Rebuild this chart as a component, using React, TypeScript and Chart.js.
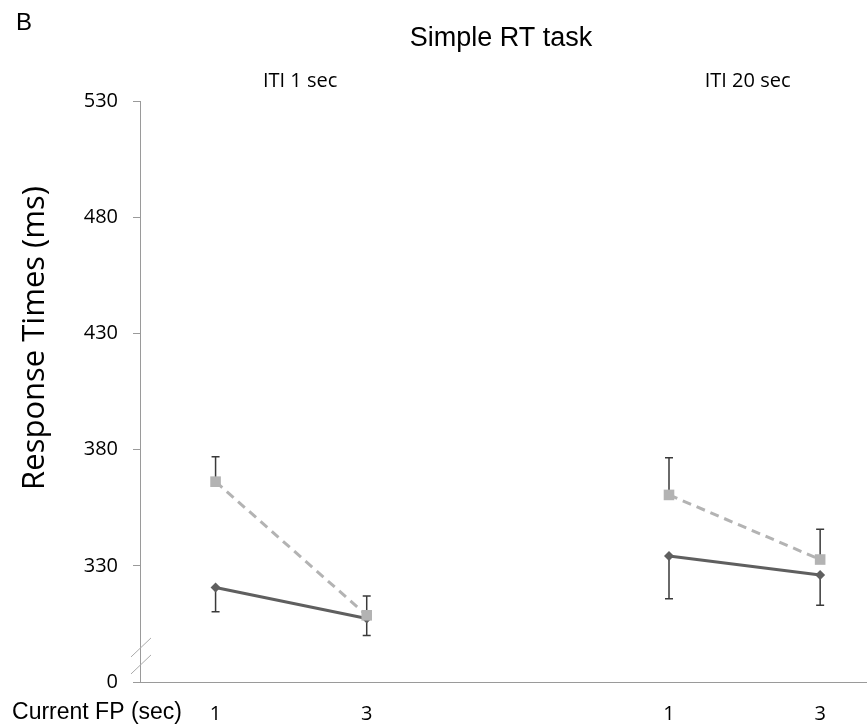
import React, { useEffect, useRef } from "react";
import { Chart, registerables } from "chart.js";

Chart.register(...registerables);

// x slots: 1,2 = ITI 1 sec (FP 1, FP 3); 3 = gap; 4,5 = ITI 20 sec (FP 1, FP 3)
const slotPositions = [1, 2, 3, 4, 5];
const fpTickLabels = ["1", "3", "", "1", "3"];
const tickedSlots = [1, 2, 4, 5];
const groupLabels = ["ITI 1 sec", "ITI 20 sec"];
const groupSlots = [[1, 2], [4, 5]];

// y axis (broken: the bottom tick stands for 0)
const yMin = 280;
const yMax = 530;
const yStep = 50;
const yBottomLabel = "0";

// dark diamonds, solid line (error shown downward)
const diamondValues: (number | null)[] = [320.7, 307.3, null, 334.2, 326.0];
const diamondErrors: (number | null)[] = [10.5, 7.3, null, 18.4, 13.0];
// grey squares, dashed line (error shown upward)
const squareValues: (number | null)[] = [366.2, 308.7, null, 360.5, 332.7];
const squareErrors: (number | null)[] = [10.7, 8.3, null, 16.0, 13.0];

const titleText = "Simple RT task";
const panelLetter = "B";
const yTitle = "Response Times (ms)";
const xTitle = "Current FP (sec)";

const SANS = "'Liberation Sans', Arial, sans-serif";
const CAL = "'Open Sans', 'Noto Sans', sans-serif";
const groupLabelShift = [9, 3];

const errorBarPlugin = {
  id: "errorBars",
  beforeDatasetsDraw(chart: any) {
    const { ctx } = chart;
    const xs = chart.scales.x;
    const ys = chart.scales.y;
    ctx.save();
    ctx.strokeStyle = "#3a3a3a";
    ctx.lineWidth = 1.5;
    const draw = (vals: (number | null)[], errs: (number | null)[], dir: number) => {
      vals.forEach((v, i) => {
        const e = errs[i];
        if (v == null || e == null) return;
        const px = xs.getPixelForValue(slotPositions[i]);
        const p0 = ys.getPixelForValue(v);
        const p1 = ys.getPixelForValue(v + dir * e);
        ctx.beginPath();
        ctx.moveTo(px, p0);
        ctx.lineTo(px, p1);
        ctx.moveTo(px - 4, p1);
        ctx.lineTo(px + 4, p1);
        ctx.stroke();
      });
    };
    draw(squareValues, squareErrors, 1);
    draw(diamondValues, diamondErrors, -1);
    ctx.restore();
  },
};

const textPlugin = {
  id: "texts",
  afterDraw(chart: any) {
    const { ctx } = chart;
    const xs = chart.scales.x;
    const ys = chart.scales.y;
    ctx.save();
    ctx.fillStyle = "#000";
    // panel letter
    ctx.font = `24px ${SANS}`;
    ctx.textAlign = "left";
    ctx.textBaseline = "middle";
    ctx.fillText(panelLetter, 16, 23);
    // title
    ctx.font = `27px ${SANS}`;
    ctx.textAlign = "center";
    ctx.fillText(titleText, 501, 39);
    // group labels
    ctx.font = `20px ${CAL}`;
    groupLabels.forEach((g, k) => {
      const [a, b] = groupSlots[k];
      const cx = (xs.getPixelForValue(a) + xs.getPixelForValue(b)) / 2;
      ctx.fillText(g, cx + groupLabelShift[k], 81);
    });
    // y title
    ctx.save();
    ctx.translate(35, 338);
    ctx.rotate(-Math.PI / 2);
    ctx.font = `31px ${CAL}`;
    ctx.textAlign = "center";
    ctx.fillText(yTitle, 0, 0);
    ctx.restore();
    // x title
    ctx.font = `23px ${SANS}`;
    ctx.textAlign = "right";
    ctx.fillText(xTitle, 182, 713);
    // axis break marks
    const yc = ys.getPixelForValue(yMin + 12.5);
    const xc = ys.right;
    ctx.strokeStyle = "#aaaaaa";
    ctx.lineWidth = 1;
    ctx.beginPath();
    ctx.moveTo(xc - 9, yc + 4);
    ctx.lineTo(xc + 11, yc - 15);
    ctx.moveTo(xc - 9, yc + 21);
    ctx.lineTo(xc + 11, yc + 2);
    ctx.stroke();
    ctx.restore();
  },
};

export default function App() {
  const ref = useRef<HTMLCanvasElement | null>(null);
  useEffect(() => {
    document.body.style.margin = "0";
    const canvas = ref.current!;
    const chart = new Chart(canvas, {
      type: "line",
      data: {
        datasets: [
          {
            label: "Squares",
            data: slotPositions.map((x, i) => ({ x, y: squareValues[i] as any })),
            borderColor: "#b3b3b3",
            backgroundColor: "#b3b3b3",
            borderWidth: 3,
            borderDash: [9, 6],
            pointStyle: "rect",
            pointRadius: 7.5,
            pointBorderWidth: 0,
            pointBackgroundColor: "#b3b3b3",
            spanGaps: false,
          },
          {
            label: "Diamonds",
            data: slotPositions.map((x, i) => ({ x, y: diamondValues[i] as any })),
            borderColor: "#5f5f5f",
            backgroundColor: "#5f5f5f",
            borderWidth: 3,
            pointStyle: "rectRot",
            pointRadius: 5,
            pointBorderWidth: 0,
            pointBackgroundColor: "#5f5f5f",
            spanGaps: false,
          },
        ],
      },
      options: {
        animation: false,
        responsive: false,
        devicePixelRatio: 1,
        layout: { autoPadding: false, padding: { top: 101, left: 0, right: 0, bottom: 0 } },
        plugins: {
          legend: { display: false },
          tooltip: { enabled: false },
          title: { display: false },
        },
        scales: {
          x: {
            type: "linear",
            min: 0.5,
            max: 5.31,
            afterBuildTicks(scale: any) {
              scale.ticks = tickedSlots.map((v) => ({ value: v }));
            },
            afterFit(scale: any) {
              scale.height = 45;
              scale.paddingLeft = 0;
              scale.paddingRight = 0;
            },
            grid: { display: false },
            border: { display: true, color: "#9a9a9a", width: 1 },
            ticks: {
              autoSkip: false,
              maxRotation: 0,
              padding: 12,
              color: "#000",
              font: { family: CAL, size: 20 },
              callback: (v: any) => fpTickLabels[Number(v) - 1] ?? "",
            },
          },
          y: {
            type: "linear",
            min: yMin,
            max: yMax,
            afterFit(scale: any) {
              scale.width = 140;
              scale.paddingTop = 0;
              scale.paddingBottom = 0;
            },
            grid: {
              display: true,
              drawOnChartArea: false,
              drawTicks: true,
              tickLength: 7,
              color: "#9a9a9a",
            },
            border: { display: true, color: "#9a9a9a", width: 1 },
            ticks: {
              stepSize: yStep,
              padding: 15,
              color: "#000",
              font: { family: CAL, size: 20 },
              callback: (v: any) => (Number(v) === yMin ? yBottomLabel : String(v)),
            },
          },
        },
      },
      plugins: [errorBarPlugin, textPlugin],
    });
    return () => chart.destroy();
  }, []);
  return (
    <div style={{ position: "absolute", left: 0, top: 0, width: 867, height: 727, background: "#fff" }}>
      <canvas ref={ref} width={867} height={727} style={{ width: 867, height: 727 }} />
    </div>
  );
}
